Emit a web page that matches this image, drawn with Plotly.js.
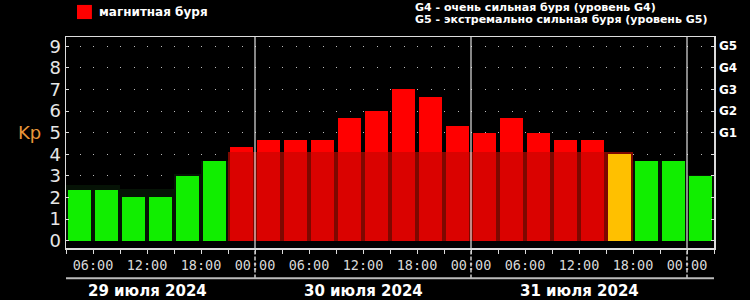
<!DOCTYPE html>
<html>
<head>
<meta charset="utf-8">
<script src="https://cdn.plot.ly/plotly-3.0.1.min.js"></script>
<style>html,body{margin:0;padding:0;background:#000;}#chart{width:750px;height:300px;}</style>
</head>
<body>
<div id="chart"></div>
<script>
// 3-hour bins (start times)
const binStart = [
  '2024-07-29 03:00','2024-07-29 06:00','2024-07-29 09:00','2024-07-29 12:00',
  '2024-07-29 15:00','2024-07-29 18:00','2024-07-29 21:00',
  '2024-07-30 00:00','2024-07-30 03:00','2024-07-30 06:00','2024-07-30 09:00',
  '2024-07-30 12:00','2024-07-30 15:00','2024-07-30 18:00','2024-07-30 21:00',
  '2024-07-31 00:00','2024-07-31 03:00','2024-07-31 06:00','2024-07-31 09:00',
  '2024-07-31 12:00','2024-07-31 15:00','2024-07-31 18:00','2024-07-31 21:00',
  '2024-08-01 00:00'
];
// Kp index per bin
const kp = [2.33,2.33,2.0,2.0,3.0,3.67,4.33,
            4.67,4.67,4.67,5.67,6.0,7.0,6.67,5.33,
            5.0,5.67,5.0,4.67,4.67,4.0,3.67,3.67,
            3.0];
// faint "shadow" band visible behind the bars
const shadowKp = [2.6,2.6,2.4,2.4,3.1,3.7,4.12,
                  4.12,4.12,4.12,4.12,4.12,4.12,4.12,4.12,
                  4.12,4.12,4.12,4.12,4.12,4.12,3.7,3.7,
                  3.05];
const dayLabels = ['29 июля 2024','30 июля 2024','31 июля 2024'];
const dayNoon = ['2024-07-29 12:00','2024-07-30 12:00','2024-07-31 12:00'];
const dayBreaks = ['2024-07-30 00:00','2024-07-31 00:00','2024-08-01 00:00'];
const gLevels = [5,6,7,8,9];
const gLabels = ['G1','G2','G3','G4','G5'];
const legendText = 'магнитная буря';
const noteLines = ['G4 - очень сильная буря (уровень G4)','G5 - экстремально сильная буря (уровень G5)'];

const BIN = 3*3600*1000;
function barColor(v){ return v >= 4.3 ? '#ff0000' : (v >= 4 ? '#ffc000' : '#11ee00'); }
function shadowColor(v){ return v > 4 ? '#7e0800' : '#061306'; }

const traces = [
  {type:'bar', x:binStart, y:shadowKp, xperiod:BIN, xperiodalignment:'middle', width:BIN,
   marker:{color:shadowKp.map(shadowColor), line:{width:0}},
   hoverinfo:'skip', showlegend:false},
  {type:'bar', x:binStart, y:kp, xperiod:BIN, xperiodalignment:'middle', width:BIN*0.82,
   marker:{color:kp.map(barColor), line:{width:0}}, showlegend:false},
  {type:'bar', x:binStart, y:kp.map((v,i)=> v>=4.3 ? Math.min(v, shadowKp[i]) : 0),
   xperiod:BIN, xperiodalignment:'middle', width:BIN*0.82,
   marker:{color:'rgba(70,10,0,0.2)', line:{width:0}}, hoverinfo:'skip', showlegend:false},
  {type:'scatter', x:[binStart[0]], y:[0], yaxis:'y2', mode:'markers', marker:{opacity:0}, hoverinfo:'skip', showlegend:false}
];

const shapes = [];
dayBreaks.forEach(d=>{
  shapes.push({type:'line', xref:'x', yref:'paper', x0:d, x1:d, y0:0, y1:1, layer:'above',
               line:{color:'rgba(255,255,255,0.7)', width:1.5}});
  shapes.push({type:'line', xref:'x', yref:'paper', x0:d, x1:d, y0:-0.145, y1:0, layer:'above',
               line:{color:'#cccccc', width:1.5, dash:'4px,2px'}});
});
shapes.push({type:'line', xref:'paper', yref:'paper', x0:0, x1:1, y0:-0.143, y1:-0.143,
             line:{color:'#bbbbbb', width:2}});
shapes.push({type:'rect', xref:'paper', yref:'paper', x0:0.017, x1:0.040, y0:1.085, y1:1.152,
             fillcolor:'#ff0000', line:{width:0}});

const annotations = [];
dayLabels.forEach((t,i)=>{
  annotations.push({text:t, x:dayNoon[i], xref:'x', y:-0.205, yref:'paper', showarrow:false,
    xanchor:'center', yanchor:'middle', font:{family:'DejaVu Sans', size:15, color:'#ffffff', weight:'bold'}});
});
annotations.push({text:legendText, x:0.048, xref:'paper', y:1.118, yref:'paper', showarrow:false,
  xanchor:'left', yanchor:'middle', font:{family:'DejaVu Sans', size:12, color:'#ffffff', weight:'bold'}});
noteLines.forEach((t,i)=>{
  annotations.push({text:t, x:0.5355, xref:'paper', y:[1.142,1.085][i], yref:'paper', showarrow:false,
    xanchor:'left', yanchor:'middle', font:{family:'DejaVu Sans', size:11, color:'#ffffff', weight:'bold'}});
});
annotations.push({text:'Kp', x:-0.057, xref:'paper', y:5.0, yref:'y', showarrow:false,
  xanchor:'center', yanchor:'middle', font:{family:'DejaVu Sans', size:18, color:'#e8963a'}});

const layout = {
  width:750, height:300,
  margin:{l:66, r:36, t:37, b:52},
  paper_bgcolor:'#000', plot_bgcolor:'#000',
  barmode:'overlay', bargap:0,
  showlegend:false,
  xaxis:{type:'date', range:['2024-07-29 03:00','2024-08-01 03:00'],
    tick0:'2024-07-29 00:00', dtick:6*3600*1000, tickformat:'%H:%M',
    ticks:'outside', ticklen:4, tickcolor:'#dddddd', tickwidth:1,
    minor:{dtick:BIN, tick0:'2024-07-29 00:00', ticks:'outside', ticklen:4, tickcolor:'#dddddd', showgrid:false},
    showgrid:false, zeroline:false, showline:true, linecolor:'#dddddd', linewidth:1.5, mirror:true,
    tickfont:{family:'DejaVu Sans Mono', size:13.5, color:'#d8d8d8'}, fixedrange:true},
  yaxis:{range:[-0.34,9.43], tickvals:[0,1,2,3,4,5,6,7,8,9],
    ticks:'inside', ticklen:3, tickcolor:'#dddddd', mirror:'ticks', showline:true, linecolor:'#dddddd', linewidth:1.5,
    showgrid:true, gridcolor:'#bbbbbb', gridwidth:1, griddash:'1px,12.5px', zeroline:false,
    tickfont:{family:'DejaVu Sans', size:18, color:'#e6e6e6'}},
  yaxis2:{range:[-0.34,9.43], overlaying:'y', side:'right', tickvals:gLevels, ticktext:gLabels,
    ticks:'', showgrid:false, zeroline:false, showline:false, ticklabelstandoff:4,
    tickfont:{family:'DejaVu Sans', size:12, color:'#ffffff', weight:'bold'}},
  shapes:shapes, annotations:annotations
};
Plotly.newPlot('chart', traces, layout, {displayModeBar:false, staticPlot:true});
</script>
</body>
</html>
